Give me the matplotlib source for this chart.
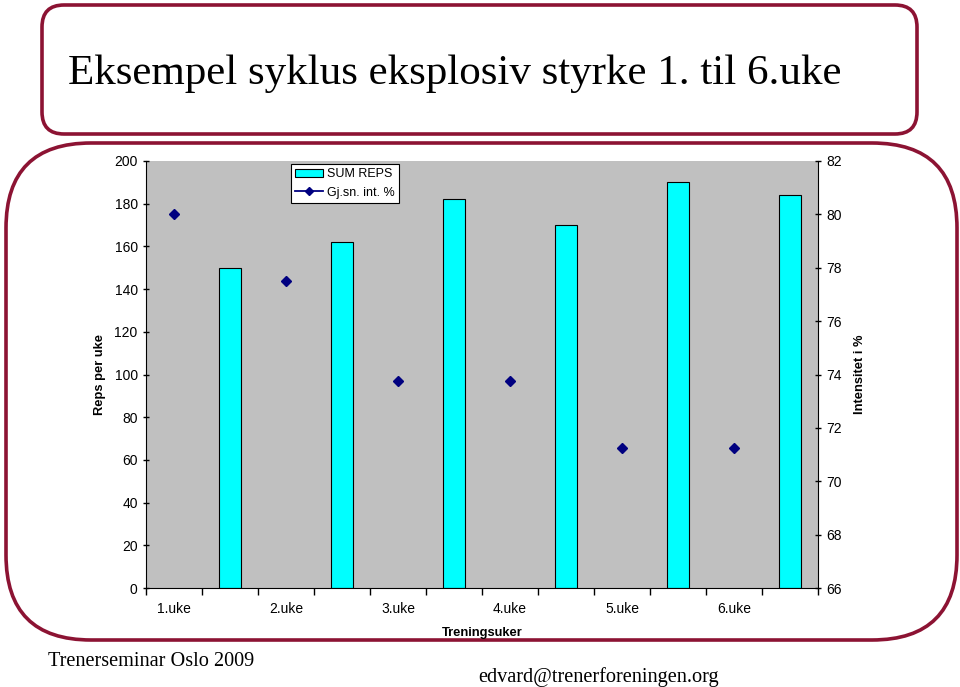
import numpy as np
import matplotlib
matplotlib.use("Agg")
import matplotlib.pyplot as plt
from matplotlib.patches import FancyBboxPatch
from matplotlib.lines import Line2D
from matplotlib.patches import Patch

# ---- data ----
weeks = ["1.uke", "2.uke", "3.uke", "4.uke", "5.uke", "6.uke"]
sum_reps = [150, 162, 182, 170, 190, 184]
intensity = [80, 77.5, 73.75, 73.75, 71.25, 71.25]
left_ticks = list(range(0, 201, 20))
right_ticks = list(range(66, 83, 2))

title = "Eksempel syklus eksplosiv styrke 1. til 6.uke"
footer_left = "Trenerseminar Oslo 2009"
footer_right = "edvard@trenerforeningen.org"

W, H = 960, 687
fig = plt.figure(figsize=(W / 100, H / 100), dpi=100)
fig.patch.set_facecolor("white")

border = "#8C1333"

# overlay in pixel coords
bg = fig.add_axes([0, 0, 1, 1], zorder=0)
bg.set_xlim(0, W)
bg.set_ylim(H, 0)
bg.axis("off")

bg.add_patch(FancyBboxPatch((42, 5), 875, 129,
                            boxstyle="round,pad=0,rounding_size=22",
                            fill=False, ec=border, lw=2.6))
bg.add_patch(FancyBboxPatch((6, 143), 951, 497,
                            boxstyle="round,pad=0,rounding_size=85",
                            fill=False, ec=border, lw=2.6))

bg.text(68, 74, title, family="Liberation Serif", fontsize=31,
        ha="left", va="center", color="black")
bg.text(48, 661, footer_left, family="Liberation Serif", fontsize=14.6,
        ha="left", va="center", color="black")
bg.text(478, 677, footer_right, family="Liberation Serif", fontsize=14.6,
        ha="left", va="center", color="black")

# chart
ax = fig.add_axes([146 / W, 1 - 588 / H, 672 / W, 427 / H], zorder=1)
ax.set_facecolor("#C0C0C0")
n = len(weeks)
x_line = np.arange(n) * 2
x_bar = np.arange(n) * 2 + 1

ax.bar(x_bar, sum_reps, width=0.4, color="#00FFFF", edgecolor="black",
       linewidth=0.8, zorder=2)
ax.set_xlim(-0.5, 2 * n - 0.5)
ax.set_ylim(0, 200)
ax.set_yticks(left_ticks)
ax.set_xticks(x_line)
ax.set_xticklabels(weeks)
ax.set_xticks(np.arange(-0.5, 2 * n, 1.0), minor=True)
ax.tick_params(axis="x", which="major", length=0, pad=10)
ax.tick_params(axis="x", which="minor", length=5, width=1, direction="out")
ax.tick_params(axis="y", length=5, width=1, direction="inout")
for lab in ax.get_xticklabels() + ax.get_yticklabels():
    lab.set_family("Liberation Sans")
    lab.set_fontsize(10)
ax.spines["top"].set_visible(False)
ax.spines["right"].set_visible(False)
ax.set_ylabel("Reps per uke", family="Liberation Sans", fontsize=9.3,
              fontweight="bold", labelpad=6)
ax.set_xlabel("Treningsuker", family="Liberation Sans", fontsize=9.3,
              fontweight="bold", labelpad=8)

ax2 = ax.twinx()
ax2.plot(x_line, intensity, linestyle="none", marker="D", markersize=5,
         color="#000080", zorder=3)
ax2.set_ylim(66, 82)
ax2.set_yticks(right_ticks)
ax2.tick_params(axis="y", length=5, width=1, direction="inout")
for lab in ax2.get_yticklabels():
    lab.set_family("Liberation Sans")
    lab.set_fontsize(10)
ax2.spines["top"].set_visible(False)
ax2.spines["left"].set_visible(False)
ax2.spines["bottom"].set_visible(False)
ax2.set_ylabel("Intensitet i %", family="Liberation Sans", fontsize=9.3,
               fontweight="bold", labelpad=9, rotation=90)

handles = [Patch(facecolor="#00FFFF", edgecolor="black", linewidth=0.8),
           Line2D([0], [0], color="#000080", marker="D", markersize=4.5, lw=1.3)]
leg = fig.legend(handles, ["SUM REPS", "Gj.sn. int. %"],
                 loc="upper left", bbox_to_anchor=(291 / W, 1 - 164 / H),
                 prop={"family": "Liberation Sans", "size": 9},
                 fancybox=False, framealpha=1, edgecolor="black",
                 borderpad=0.35, handlelength=2.2, handletextpad=0.3,
                 labelspacing=0.5, borderaxespad=0)
leg.get_frame().set_linewidth(0.8)
leg.set_zorder(5)

fig.savefig("out.png", dpi=100)
